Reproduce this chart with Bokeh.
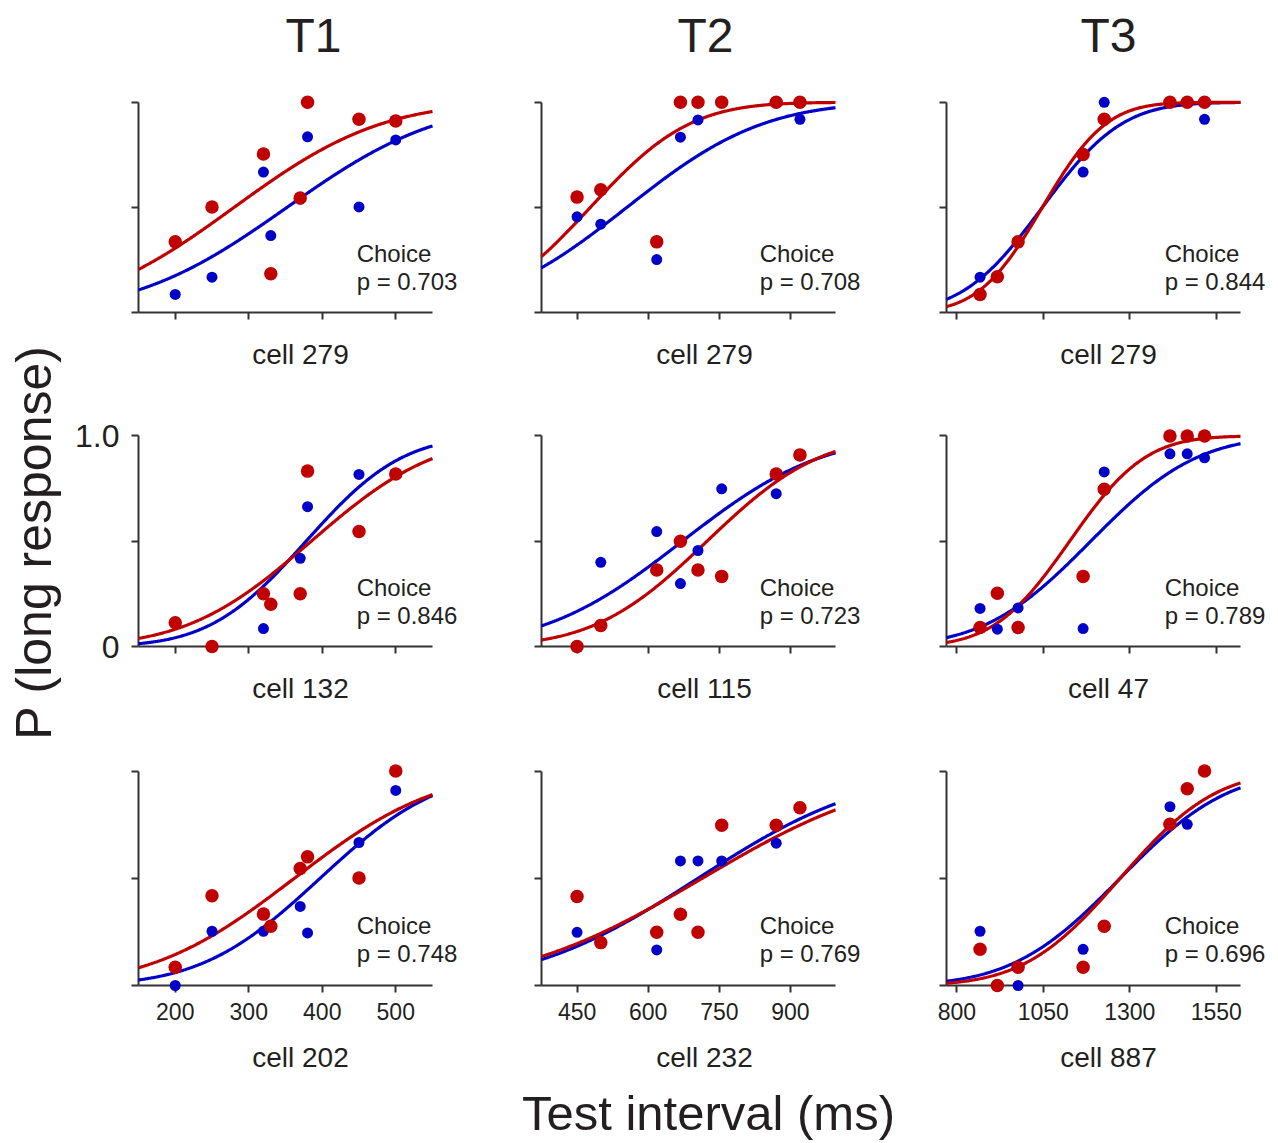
import math
import numpy as np
from bokeh.plotting import figure
from bokeh.layouts import column, row
from bokeh.models import FixedTicker, Label, Range1d
from bokeh.core.properties import value
from bokeh.embed import file_html
from bokeh.resources import INLINE

FONT = "Liberation Sans"
TXT = "#231f20"
AX = "#333333"
BLUE = "#0000c8"
RED = "#c00000"

# ---------------- data ----------------
col_titles = ["T1", "T2", "T3"]
x_limits = [(150, 550), (375, 995), (770, 1620)]
x_ticks = [[200, 300, 400, 500], [450, 600, 750, 900], [800, 1050, 1300, 1550]]
x_vals = [[200, 250, 320, 330, 370, 380, 450, 500],
          [450, 500, 618, 668, 705, 755, 870, 920],
          [867, 917, 977, 1165, 1226, 1416, 1466, 1516]]

cells = [["cell 279", "cell 279", "cell 279"],
         ["cell 132", "cell 115", "cell 47"],
         ["cell 202", "cell 232", "cell 887"]]
p_vals = [["0.703", "0.708", "0.844"],
          ["0.846", "0.723", "0.789"],
          ["0.748", "0.769", "0.696"]]

blue_y = [
    [[0.086, 0.168, 0.668, 0.366, 0.54, 0.836, 0.502, 0.821],
     [0.455, 0.42, 0.252, 0.834, 0.916, 1.0, 1.0, 0.919],
     [0.168, 0.17, 0.336, 0.668, 1.0, 1.0, 1.0, 0.919]],
    [[0.113, 0.0, 0.085, 0.201, 0.419, 0.664, 0.817, 0.819],
     [0.0, 0.4, 0.546, 0.299, 0.456, 0.749, 0.726, 0.91],
     [0.181, 0.082, 0.183, 0.085, 0.829, 0.915, 0.915, 0.896]],
    [[0.0, 0.253, 0.253, 0.276, 0.369, 0.245, 0.667, 0.91],
     [0.248, 0.2, 0.166, 0.581, 0.581, 0.581, 0.664, 0.829],
     [0.253, 0.0, 0.0, 0.169, 0.276, 0.834, 0.752, 1.0]],
]
red_y = [
    [[0.336, 0.502, 0.754, 0.184, 0.545, 1.0, 0.919, 0.911],
     [0.549, 0.584, 0.336, 1.0, 1.0, 1.0, 1.0, 1.0],
     [0.086, 0.17, 0.336, 0.752, 0.919, 1.0, 1.0, 1.0]],
    [[0.113, 0.0, 0.251, 0.201, 0.251, 0.833, 0.546, 0.819],
     [0.0, 0.1, 0.363, 0.5, 0.363, 0.333, 0.819, 0.91],
     [0.09, 0.253, 0.09, 0.333, 0.747, 1.0, 1.0, 1.0]],
    [[0.085, 0.419, 0.333, 0.276, 0.546, 0.6, 0.501, 1.0],
     [0.415, 0.2, 0.248, 0.332, 0.248, 0.747, 0.747, 0.829],
     [0.169, 0.0, 0.085, 0.085, 0.276, 0.752, 0.918, 1.0]],
]

# fitted psychometric functions (cumulative Gaussian): mean and SD in ms
blue_mu = [[352, 555, 1047], [378, 672, 1187], [397, 705, 1272]]
blue_sd = [[163, 226, 181], [103, 230, 242], [127, 282, 245]]
red_mu = [[280, 478, 1047], [385, 724, 1126], [362, 714, 1272]]
red_sd = [[158, 165, 145], [133, 187, 172], [153, 308, 218]]

# ---------------- layout ----------------
LEFT_W = 70
col_fig_w = [392, 405, 409]
col_border_l = [68, 79, 79]
col_border_r = [0, 0, 6]
row_fig_h = [372, 334, 379]
row_border_t = [62, 55, 56]
row_frame_h = [255, 223, 223]
PX_PER_UNIT = 214.4
AXIS_PX = 294.0
TOTAL_H = 1141
title_center = [313, 705, 1108]      # page x of the column headers
TITLE_W = 56                          # approx. width of "T1" at 48px

erf = np.vectorize(math.erf)


def cdf(x, mu, sd):
    return 0.5 * (1.0 + erf((x - mu) / (sd * math.sqrt(2.0))))


def style_axis(ax):
    ax.axis_line_width = 2
    ax.axis_line_color = AX
    ax.major_tick_line_width = 2
    ax.major_tick_line_color = AX
    ax.major_tick_in = 0
    ax.major_tick_out = 7
    ax.minor_tick_line_color = None
    ax.major_label_text_font = FONT
    ax.major_label_text_color = TXT
    ax.axis_label_text_font = FONT
    ax.axis_label_text_font_style = "normal"
    ax.axis_label_text_color = TXT


rows = []
for r in range(3):
    figs = []
    fig_left = LEFT_W
    for c in range(3):
        x0, x1 = x_limits[c]
        fw = col_fig_w[c] - col_border_l[c] - col_border_r[c]
        x_end = x0 + (x1 - x0) * fw / AXIS_PX
        fh = row_frame_h[r]
        bb = row_fig_h[r] - row_border_t[r] - fh
        p = figure(width=col_fig_w[c], height=row_fig_h[r],
                   x_range=Range1d(x0, x_end), y_range=Range1d(0, fh / PX_PER_UNIT),
                   toolbar_location=None, output_backend="svg",
                   min_border_left=col_border_l[c], min_border_right=col_border_r[c],
                   min_border_top=row_border_t[r], min_border_bottom=bb)
        p.xgrid.visible = False
        p.ygrid.visible = False
        p.outline_line_color = None
        p.background_fill_color = "white"
        p.border_fill_color = "white"

        if r == 0:
            frame_left = fig_left + col_border_l[c]
            p.title.text = col_titles[c]
            p.title.align = "left"
            p.title.offset = title_center[c] - frame_left - TITLE_W / 2
            p.title.text_font = FONT
            p.title.text_font_size = "48px"
            p.title.text_font_style = "normal"
            p.title.text_color = TXT
            p.title.standoff = 2

        # x axis
        xa = p.xaxis[0]
        style_axis(xa)
        xa.bounds = (x0, x1)
        xa.ticker = FixedTicker(ticks=x_ticks[c])
        xa.axis_label = cells[r][c]
        xa.axis_label_text_font_size = "28px"
        if r == 2:
            xa.major_label_text_font_size = "23px"
            xa.major_label_standoff = 10
            xa.axis_label_standoff = 19
        else:
            xa.major_label_overrides = {t: "" for t in x_ticks[c]}
            xa.axis_label_standoff = 19

        # y axis
        ya = p.yaxis[0]
        style_axis(ya)
        ya.bounds = (0, 1)
        ya.ticker = FixedTicker(ticks=[0, 0.5, 1])
        if r == 1 and c == 0:
            ya.major_label_overrides = {0: "0", 0.5: "", 1: "1.0"}
            ya.major_label_text_font_size = "32px"
            ya.major_label_standoff = 12
        else:
            ya.major_label_overrides = {0: "", 0.5: "", 1: ""}

        xs = np.linspace(x0, x1, 300)
        p.line(xs, cdf(xs, blue_mu[r][c], blue_sd[r][c]), line_width=3.2, color=BLUE,
               level="overlay")
        p.line(xs, cdf(xs, red_mu[r][c], red_sd[r][c]), line_width=3.2, color=RED,
               level="overlay")
        p.scatter(x_vals[c], blue_y[r][c], size=11, color=BLUE, line_color=None,
                  level="overlay")
        p.scatter(x_vals[c], red_y[r][c], size=13.5, color=RED, line_color=None,
                  level="overlay")

        nx = x0 + 0.742 * (x1 - x0)
        p.add_layout(Label(x=nx, y=0.281, text="Choice", text_font=FONT,
                           text_font_size="24px", text_color=TXT,
                           text_baseline="middle", text_align="left"))
        p.add_layout(Label(x=nx, y=0.147, text="p = " + p_vals[r][c], text_font=FONT,
                           text_font_size="24px", text_color=TXT,
                           text_baseline="middle", text_align="left"))
        figs.append(p)
        fig_left += col_fig_w[c]
    rows.append(row(*figs))

# bottom strip: common x title
strip_h = TOTAL_H - sum(row_fig_h)
strip_w = sum(col_fig_w)
s = figure(width=strip_w, height=strip_h, x_range=Range1d(0, strip_w),
           y_range=Range1d(0, strip_h), x_axis_type=None, y_axis_type=None,
           toolbar_location=None, output_backend="svg", min_border=0, title=None)
s.xgrid.visible = False
s.ygrid.visible = False
s.outline_line_color = None
s.text(x=[708 - LEFT_W], y=[29], text=["Test interval (ms)"], text_font=value(FONT),
       text_font_size="49px", text_align="center", text_baseline="middle",
       text_color=TXT)

# left strip: common y title
ls = figure(width=LEFT_W, height=TOTAL_H, x_range=Range1d(0, LEFT_W),
            y_range=Range1d(0, TOTAL_H), x_axis_type=None, y_axis_type=None,
            toolbar_location=None, output_backend="svg", min_border=0, title=None)
ls.xgrid.visible = False
ls.ygrid.visible = False
ls.outline_line_color = None
ls.text(x=[33], y=[TOTAL_H - 542], text=["P (long response)"], text_font=value(FONT),
        text_font_size="50px", text_align="center", text_baseline="middle",
        angle=math.pi / 2, text_color=TXT)

layout = row(ls, column(*rows, s))
open("out.html", "w").write(file_html(layout, INLINE))
